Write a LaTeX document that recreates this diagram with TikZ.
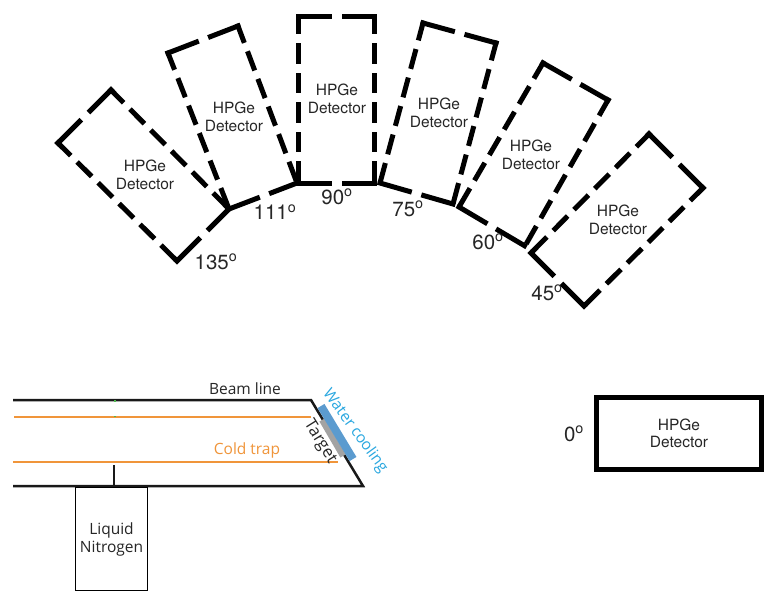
\documentclass[tikz,border=0pt]{standalone}
\usepackage{fontspec}
\setmainfont{TeX Gyre Heros}
\newfontfamily\myr{Open Sans}
\definecolor{trapc}{HTML}{F0953A}
\definecolor{wblue}{HTML}{5B9BCF}
\definecolor{wtext}{HTML}{2BA8E0}
\definecolor{tgray}{HTML}{A3A3A3}
\tikzset{
  longside/.style={line width=5pt,line cap=rect,dash pattern=on 15.5pt off 14pt},
  shortside/.style={line width=5pt,line cap=rect,dash pattern=on 30.5pt off 15pt},
  detlabel/.style={align=center,font=\fontsize{15.5}{17.5}\selectfont,text=black!85,inner sep=0pt},
  anglabel/.style={font=\fontsize{20.5}{22}\selectfont,text=black!85,inner sep=0pt},
  pipe/.style={line width=2.5pt,black!90},
  trap/.style={line width=2.5pt,trapc},
  smalltext/.style={font=\myr\fontsize{15.5}{18}\selectfont,inner sep=0pt},
}
\newcommand{\detbox}[9]{%
  \coordinate (#1bl) at (#2,#3);
  \coordinate (#1tl) at (#4,#5);
  \coordinate (#1tr) at (#6,#7);
  \coordinate (#1br) at (#8,#9);
  \draw[longside] (#1tl) -- (#1bl);
  \draw[longside] (#1tr) -- (#1br);
  \draw[shortside] (#1tl) -- (#1tr);
  \draw[shortside] (#1bl) -- (#1br);
}
\begin{document}
\begin{tikzpicture}[x=1pt,y=-1pt]
\useasboundingbox[fill=white] (0,0) rectangle (779,614);
% detectors
\detbox{a}{177}{261}{58}{143}{111}{90}{229}{209}
\detbox{b}{229}{209}{168}{53}{238}{26}{297}{183}
\detbox{c}{298.5}{183}{298.5}{16}{374.5}{16}{374.5}{183}
\detbox{d}{380}{183}{423}{23}{496}{43}{453}{204}
\detbox{e}{459}{207}{543}{63}{608}{100}{525}{246}
\detbox{f}{531}{253}{649}{134}{703}{188}{584}{306}
\node[detlabel] (ta) at (145,175) {HPGe\\Detector};
\node[detlabel] (tb) at (234,117) {HPGe\\Detector};
\node[detlabel] (tc) at (337,99) {HPGe\\Detector};
\node[detlabel] (td) at (439,113) {HPGe\\Detector};
\node[detlabel] (te) at (531,155) {HPGe\\Detector};
\node[detlabel] (tf) at (618,220) {HPGe\\Detector};
\node[anglabel] (la) at (216,262) {135\textsuperscript{o}};
\node[anglabel] (lb) at (275,212) {111\textsuperscript{o}};
\node[anglabel] (lc) at (337,197) {90\textsuperscript{o}};
\node[anglabel] (ld) at (408,209) {75\textsuperscript{o}};
\node[anglabel] (le) at (488,242) {60\textsuperscript{o}};
\node[anglabel] (lf) at (547,293) {45\textsuperscript{o}};
% zero degree detector
\node[draw,line width=5pt,minimum width=165pt,minimum height=72pt,detlabel,inner sep=0pt] (zero) at (679,433.5) {HPGe\\Detector};
\node[anglabel] (lz) at (574,434) {0\textsuperscript{o}};
% beam line
\coordinate (p1) at (13,400);
\coordinate (p2) at (311,400);
\coordinate (p3) at (363,486);
\coordinate (p4) at (13,486);
\coordinate (t1) at (14,417);
\coordinate (t2) at (311,417);
\coordinate (t3) at (13,462);
\coordinate (t4) at (338,462);
\coordinate (w1) at (321,406);
\coordinate (w2) at (353,459);
\coordinate (g1) at (322,420);
\coordinate (g2) at (343,456);
\draw[trap] (t1) -- (t2);
\draw[trap] (t3) -- (t4);
\draw[pipe,line join=miter] (p1) -- (p2) -- (p3) -- (p4);
\draw[line width=6pt,tgray] (g1) -- (g2);
\draw[line width=8pt,wblue] (w1) -- (w2);
\node[draw,line width=1pt,minimum width=72pt,minimum height=103pt,inner sep=0pt,anchor=north west,align=center,smalltext] (ln) at (75,487) {};
\node[smalltext,align=center,text=black!85] (lnt) at (ln.center) {Liquid\\Nitrogen};
\coordinate (st) at (114,465);
\draw[pipe] (st) -- (st |- ln.north);
\fill[green!60!black!70] (114,400) rectangle (116,402);
\fill[green!60!black!70] (114,416) rectangle (116,417);
\node[smalltext,text=black!85] (bl) at (245,389) {Beam line};
\node[smalltext,text=trapc] (ct) at (247,450) {Cold trap};
\node[smalltext,font=\myr\fontsize{16.5}{18}\selectfont,text=black!85,rotate=-58] (tg) at (320,442) {Target};
\node[smalltext,text=wtext,rotate=-54] (wc) at (355,431) {Water cooling};
\end{tikzpicture}
\end{document}
